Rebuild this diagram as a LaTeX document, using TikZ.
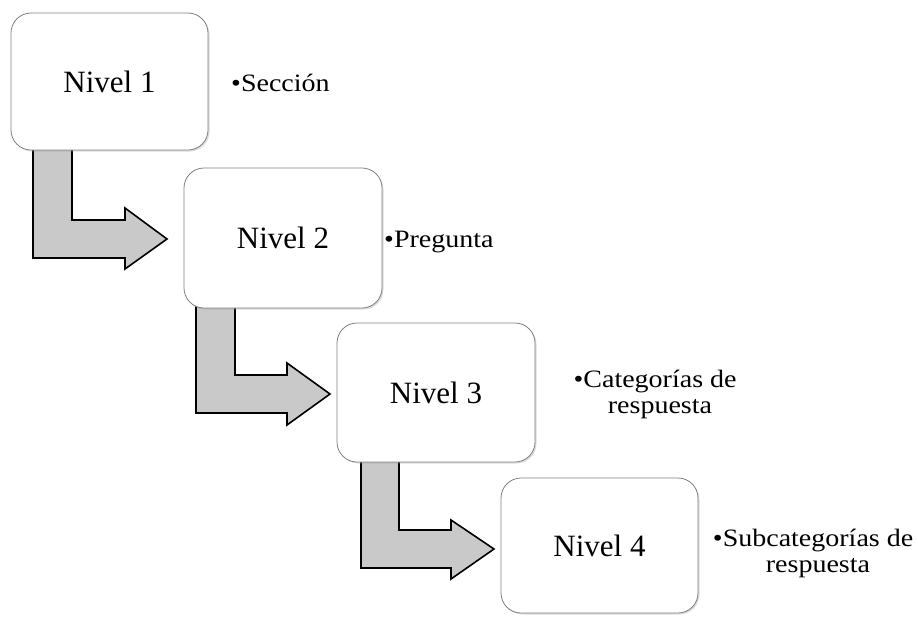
\documentclass[tikz,border=0pt]{standalone}
\usepackage{fontspec}
\setmainfont{Liberation Serif}
\newfontfamily\labelfont[FakeStretch=1.12]{Liberation Serif}
\usetikzlibrary{shadows}
\newcommand{\hangbullet}{\makebox[0pt][r]{•}}
\begin{document}
\begin{tikzpicture}[x=1pt,y=-1pt,
  lvlbox/.style={draw=black!50, line width=0.8pt, fill=white, rounded corners=20pt,
    drop shadow={shadow xshift=1.5pt, shadow yshift=-1.5pt, opacity=0.35, fill=black!40},
    font=\fontsize{31}{36}\selectfont, inner sep=0pt},
  bendarrow/.style={draw=black, line width=1.6pt, fill=black!21, line join=miter},
  sidelabel/.style={font=\labelfont\fontsize{25}{26}\selectfont, inner sep=0pt, align=center}]
\useasboundingbox (0,0) rectangle (918,616);
% bent block arrows
\foreach \xa/\xb/\ya/\yb/\yc/\xc/\yd/\ye/\xd/\yf in
  {33/72/145/220/258/125/208/269/167/239,
   196/235/302/375/413/287/363/425/330/394,
   361/399/456/530/568/451/520/579/494/549}
  \draw[bendarrow] (\xa,\ya) -- (\xb,\ya) -- (\xb,\yb) -- (\xc,\yb) -- (\xc,\yd)
     -- (\xd,\yf) -- (\xc,\ye) -- (\xc,\yc) -- (\xa,\yc) -- cycle;
% level boxes
\node[lvlbox, minimum width=197pt, minimum height=137pt] (n1) at (109.5,81.5) {Nivel 1};
\node[lvlbox, minimum width=198pt, minimum height=140pt] (n2) at (283,238) {Nivel 2};
\node[lvlbox, minimum width=198pt, minimum height=139pt] (n3) at (436,392.5) {Nivel 3};
\node[lvlbox, minimum width=197pt, minimum height=135pt] (n4) at (599.5,545.5) {Nivel 4};
% side labels
\node[sidelabel, anchor=base west] (l1) at (231,91) {•Sección};
\node[sidelabel, anchor=base west] (l2) at (384,247) {•Pregunta};
\node[sidelabel, anchor=base] (l3) at (660,413) {\hangbullet Categorías de\\respuesta};
\node[sidelabel, anchor=base] (l4) at (818,572) {\hangbullet Subcategorías de\\respuesta};
\end{tikzpicture}
\end{document}
